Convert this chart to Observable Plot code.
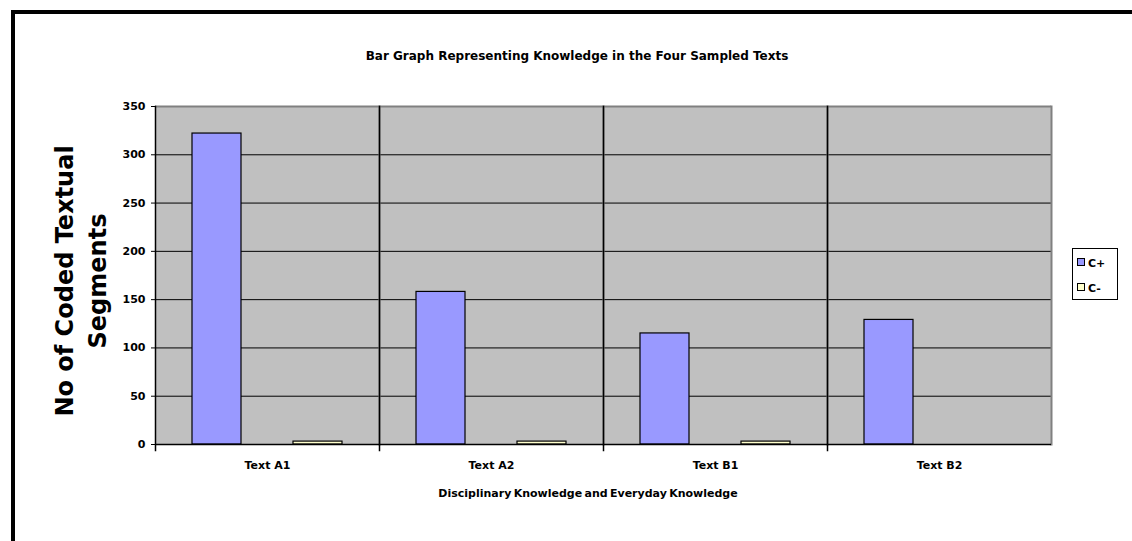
<!DOCTYPE html>
<html>
<head>
<meta charset="utf-8">
<script src="https://cdn.jsdelivr.net/npm/d3@7"></script>
<script src="https://cdn.jsdelivr.net/npm/@observablehq/plot@0.6"></script>
<style>
  html, body { margin: 0; padding: 0; background: #fff; overflow: hidden; }
  #wrap { position: relative; width: 1132px; height: 541px; font-family: "DejaVu Sans", "Liberation Sans", Arial, sans-serif; font-weight: bold; color: #000; }
  #border { position: absolute; left: 11px; top: 10px; width: 1200px; height: 600px; border-left: 4px solid #000; border-top: 4px solid #000; }
  #chart { position: absolute; left: 0; top: 0; }
  .t { position: absolute; white-space: nowrap; font-size: 11px; }
  #title { left: 577px; top: 49px; transform: translateX(-50%); font-size: 12px; }
  #xtitle { left: 588px; top: 487px; transform: translateX(-50%); word-spacing: -1.5px; }
  #ytitle { position: absolute; left: 82px; top: 281px; transform: translate(-50%, -50%) rotate(-90deg); font-size: 24px; line-height: 33px; text-align: center; white-space: nowrap; }
  #legend { position: absolute; left: 1072px; top: 248px; width: 44px; height: 50px; border: 1px solid #000; background: #fff; font-size: 11px; }
  .item { position: absolute; left: 4px; height: 12px; line-height: 12px; }
  .sw { display: inline-block; width: 6px; height: 6px; border: 1px solid #000; margin-right: 3px; vertical-align: 1px; }
</style>
</head>
<body>
<div id="wrap">
  <div id="border"></div>
  <div id="chart"></div>
  <div class="t" id="title">Bar Graph Representing Knowledge in the Four Sampled Texts</div>
  <div class="t" id="xtitle">Disciplinary Knowledge and Everyday Knowledge</div>
  <div id="ytitle">No of Coded Textual<br>Segments</div>
  <div id="legend"></div>
</div>
<script>
const categories = ["Text A1", "Text A2", "Text B1", "Text B2"];
const series = ["C+", "C-"];
const cPlus = [322, 158, 115, 129];
const cMinus = [3, 3, 3, 0];
const yTicks = [0, 50, 100, 150, 200, 250, 300, 350];
const seriesColors = ["#9999FF", "#FFFFCC"];

const rows = [];
categories.forEach((c, i) => {
  rows.push({cat: c, series: "C+", value: cPlus[i]});
  rows.push({cat: c, series: "C-", value: cMinus[i]});
});

const chart = Plot.plot({
  width: 1132,
  height: 541,
  marginLeft: 153,
  marginRight: 80,
  marginTop: 106,
  marginBottom: 97,
  style: {fontFamily: "'DejaVu Sans', 'Liberation Sans', Arial, sans-serif", fontSize: "11px", fontWeight: "bold", color: "#000", background: "transparent", overflow: "visible"},
  fx: {domain: categories, padding: 0, label: null, axis: "bottom", tickSize: 0, tickPadding: 17},
  x: {domain: series, paddingInner: 0.51, paddingOuter: 0.36, axis: null},
  y: {domain: [0, 350], ticks: yTicks, label: null, tickSize: 4, tickPadding: 6},
  color: {domain: series, range: seriesColors},
  marks: [
    Plot.frame({fill: "#C0C0C0"}),
    Plot.ruleY(yTicks.filter(d => d > 0 && d < 350), {stroke: "#000", strokeWidth: 1}),
    Plot.ruleY([350], {stroke: "#808080", strokeWidth: 2}),
    Plot.frame({anchor: "right", stroke: "#808080", strokeWidth: 2}),
    Plot.frame({anchor: "left", stroke: "#000", strokeWidth: 1.5, insetBottom: -6}),
    Plot.barY(rows.filter(d => d.value > 0), {fx: "cat", x: "series", y: "value", fill: "series", stroke: "#000", strokeWidth: 1.2}),
    Plot.ruleY([0], {stroke: "#000", strokeWidth: 1.5})
  ]
});
document.getElementById("chart").appendChild(chart);

const legend = document.getElementById("legend");
series.forEach((s, i) => {
  const it = document.createElement("div");
  it.className = "item";
  it.style.top = (9 + i * 25) + "px";
  it.innerHTML = `<span class="sw" style="background:${seriesColors[i]}"></span>${s}`;
  legend.appendChild(it);
});
</script>
</body>
</html>
